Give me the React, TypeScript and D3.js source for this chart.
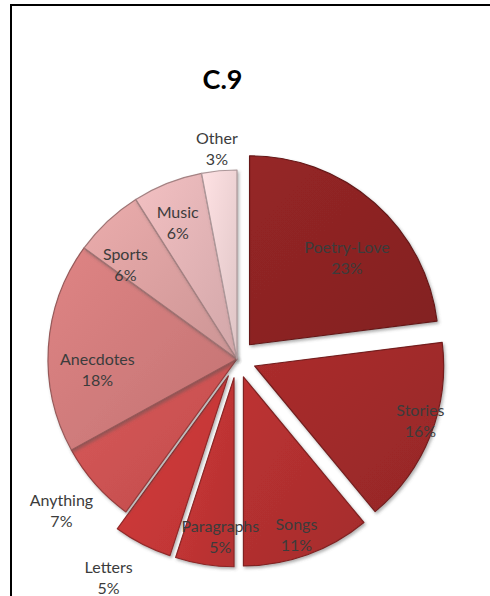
import React from "react";
import * as d3 from "d3";

const categories = ["Poetry-Love", "Stories", "Songs", "Paragraphs", "Letters", "Anything", "Anecdotes", "Sports", "Music", "Other"];
const values = [23, 16, 11, 5, 5, 7, 18, 6, 6, 3];
const exploded = [true, true, true, true, true, false, false, false, false, false];
const colors = ["#8c2323", "#a02a2a", "#b02f2f", "#c03434", "#c83838", "#cc5252", "#d07b7b", "#dba0a0", "#e2b3b5", "#eed2d4"];
const labelRadius = [0.7, 0.92, 0.87, 0.83, 1.23, 1.22, 0.74, 0.78, 0.8, 1.13];
const labelShiftDeg = [6, -4, 1, -4, 4, 1, -7, -6, -1.5, 0];
const title = "C.9";

const W = 490;
const H = 596;
const cx = 237;
const cy = 359;
const R = 189;
const EXPLODE = 19;

export default function App() {
  const total = d3.sum(values);
  const pie = d3.pie<number>().sort(null).startAngle(0).endAngle(2 * Math.PI).value((d) => d);
  const arcs = pie(values);
  const arc = d3.arc<d3.PieArcDatum<number>>().innerRadius(0).outerRadius(R);
  const fmt = (v: number) => `${Math.round((v / total) * 100)}%`;

  return (
    <svg width={W} height={H} style={{ position: "absolute", left: 0, top: 0, background: "#fff" }}
      fontFamily="Lato, 'Open Sans', sans-serif">
      <defs>
        <filter id="shadow" x="-20%" y="-20%" width="140%" height="140%">
          <feDropShadow dx="1.5" dy="2" stdDeviation="1.6" floodColor="#555" floodOpacity="0.45" />
        </filter>
        {colors.map((c, i) => (
          <linearGradient key={i} id={`g${i}`} x1="0" y1="0" x2="1" y2="1">
            <stop offset="0%" stopColor={d3.color(c)!.brighter(0.2).formatHex()} />
            <stop offset="100%" stopColor={d3.color(c)!.darker(0.2).formatHex()} />
          </linearGradient>
        ))}
      </defs>
      <rect x={11} y={5} width={520} height={640} fill="none" stroke="#000" strokeWidth={2} />
      <text x={222.5} y={89} textAnchor="middle" fontSize={27} fontWeight="bold" fill="#000">{title}</text>
      <g transform={`translate(${cx},${cy})`}>
        {arcs.map((a, i) => {
          const mid = (a.startAngle + a.endAngle) / 2;
          const off = exploded[i] ? EXPLODE : 0;
          const ox = Math.sin(mid) * off;
          const oy = -Math.cos(mid) * off;
          return (
            <path key={categories[i]} d={arc(a) || ""} transform={`translate(${ox},${oy})`}
              fill={`url(#g${i})`} stroke={d3.color(colors[i])!.darker(0.9).formatHex()} strokeWidth={1.2}
              strokeLinejoin="round" filter="url(#shadow)" />
          );
        })}
        {arcs.map((a, i) => {
          const mid = (a.startAngle + a.endAngle) / 2;
          const off = exploded[i] ? EXPLODE : 0;
          const ox = Math.sin(mid) * off;
          const oy = -Math.cos(mid) * off;
          const ang = mid + (labelShiftDeg[i] * Math.PI) / 180;
          const r = R * labelRadius[i];
          const x = ox + Math.sin(ang) * r;
          const y = oy - Math.cos(ang) * r;
          return (
            <text key={`l${i}`} x={x} y={y} textAnchor="middle" fontSize={16} fill="#3c3c3c">
              <tspan x={x} dy="-0.15em">{categories[i]}</tspan>
              <tspan x={x} dy="1.32em">{fmt(a.value)}</tspan>
            </text>
          );
        })}
      </g>
    </svg>
  );
}
